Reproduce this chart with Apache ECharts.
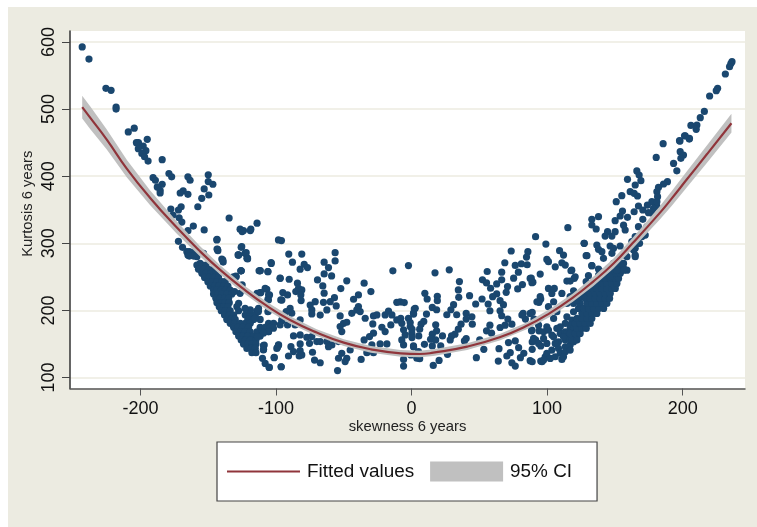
<!DOCTYPE html>
<html><head><meta charset="utf-8">
<style>html,body{margin:0;padding:0;background:#fff}#c{width:757px;height:527px}</style>
<script src="https://cdn.jsdelivr.net/npm/echarts@6/dist/echarts.min.js"></script>
</head><body><div id="c"></div>
<script>
const xTicks=[-200,-100,0,100,200];
const yTicks=[100,200,300,400,500,600];
const fitX=[-243,-237,-225,-210,-193,-173,-156,-141,-124,-107,-90,-70,-50,-30,-8,6,16,41,65,85,102,119,134,149,163,183,192,203,218,236];
const fitY=[503,487,455,411,368,323,288,260,232,207,186,167,152,142,136,135,137,146,160,177,196,219,243,270,300,345,367,395,433,479];
const ciLow=[486,470,440,398,357,314,280.5,253,226,201,180.5,162,147,137,131,130,132,141,155,172,190,213,236,262.5,292,335,356,383,420,465];
const ciHigh=[520,504,470,424,379,332,295.5,267,238,213,191.5,172,157,147,141,140,142,151,165,182,202,225,250,277.5,308,355,378,407,446,493];
const pointsLeftTop=[[-243,592.7],[-238,574.6],[-225.5,531],[-221.7,528],[-218,503],[-218,500],[-209,466],[-204.6,471.6],[-195,455],[-203,450],[-201.5,450],[-198,445],[-201.6,441],[-196,438],[-199,434],[-197,429],[-194.4,422.6],[-184,424.6],[-190.7,397.8],[-189,394],[-179,404],[-177,399],[-184,388],[-187.6,384],[-185.5,379],[-185.5,375],[-165,399],[-163.4,394],[-150,402],[-150,392],[-146.6,388],[-168.5,378],[-170.7,375],[-165,373],[-153,381],[-149.6,372],[-154.8,367],[-157.7,354.5],[-170,354.5],[-172,349.6],[-177.6,351],[-176,342],[-171.5,338],[-169.5,331.6],[-134.6,337.7],[-161,325.7],[-153,320],[-165,318.8],[-126.5,321],[-124,319],[-118.6,321],[-114,330],[-143.5,306],[-143.5,291.5],[-172,303],[-169,294],[-165,282.6],[-125.7,294],[-122.8,285],[-128,282.6],[-121,278],[-140,276.6],[-139,272],[-125.7,259],[-112.5,259],[-129.4,250],[-158.4,280],[-165.8,287.5],[-153.5,285],[-159.7,287.5],[-156,270],[-151,260],[-98.2,305],[-96,304],[-131.4,250],[-125,238],[-126.5,225.4],[-114,225.4]];
const pointsLeftDense=[[-164,287.5],[-164,281],[-160.9,281],[-158.4,267.6],[-154.7,267.6],[-151.7,267.6],[-157.2,261.2],[-153.5,261.2],[-149.8,261.2],[-146.1,261.2],[-154.7,255.2],[-151.7,255.2],[-147.8,255.2],[-144.4,255.2],[-152.7,249.2],[-149.3,249.2],[-145.4,249.2],[-142.4,249.2],[-150.3,242.8],[-147.3,242.8],[-143.6,242.8],[-139.9,242.8],[-137.5,242.8],[-148.5,236.3],[-145.4,236.3],[-142.4,236.3],[-138.7,236.3],[-135.5,236.3],[-146.1,230.4],[-143.6,230.4],[-140.4,230.4],[-137.5,230.4],[-133.8,230.4],[-146.1,224.4],[-142.9,224.4],[-139.9,224.4],[-136.3,224.4],[-132.6,224.4],[-144.4,218],[-141.2,218],[-138,218],[-135,218],[-143.6,211.5],[-140.4,211.5],[-137.5,211.5],[-134.5,211.5],[-141.9,205.5],[-138.7,205.5],[-135.5,205.5],[-128.9,205.5],[-140.4,199.5],[-137.5,199.5],[-133.8,199.5],[-127.6,199.5],[-119,199.5],[-114.1,199.5],[-138,193],[-134.5,193],[-131.3,193],[-122.7,193],[-119,193],[-115.3,193],[-136.3,186.6],[-133,186.6],[-130.1,186.6],[-120.8,186.6],[-116.6,186.6],[-111.7,186.6],[-133.8,180.7],[-130.6,180.7],[-126.4,180.7],[-122.7,180.7],[-119,180.7],[-105.5,180.7],[-101.8,180.7],[-131.3,174.7],[-128.1,174.7],[-124.7,174.7],[-120.3,174.7],[-111.7,174.7],[-108,174.7],[-104.3,174.7],[-129.6,168.2],[-126.4,168.2],[-122.7,168.2],[-119,168.2],[-114.1,168.2],[-110.4,168.2],[-105.5,168.2],[-127.6,161.8],[-124.7,161.8],[-120.8,161.8],[-116.6,161.8],[-111.7,161.8],[-125.7,155.8],[-122.7,155.8],[-119,155.8],[-114.8,155.8],[-124,149.8],[-120.8,149.8],[-117.8,149.8],[-114.8,149.8],[-121.5,143.4],[-118.3,143.4],[-115.3,143.4],[-117.8,137],[-114.8,137],[-139.4,275],[-127.6,282.5],[-121.5,277.6],[-125.7,259],[-129.6,251],[-111.7,259],[-106,257.7],[-103.5,270],[-96.9,247.8],[-108,232.8],[-111.7,226.4],[-105.5,223],[-106,216.4],[-95.7,215.4],[-112.9,203],[-106,198],[-95.7,184.6],[-108.7,148.4],[-109.2,142],[-98.1,148.4],[-99.4,143.4],[-110,128.5],[-108,121],[-101.3,130],[-105,115],[-96.2,116],[-122,286],[-142.9,289],[-127.6,210.5],[-130.6,228]];
const pointsMidLeft=[[-2.3,266.8],[-13.8,259],[-56.4,286],[-56.4,273.8],[-81,284],[-90.6,284],[-87.9,271.8],[-64.5,271.8],[-79.2,268.8],[-76.8,263.8],[-82.2,261.4],[-61.3,263.8],[-64.5,254.4],[-59,251.4],[-69.4,245.4],[-47.8,244],[-65.5,236.5],[-64.5,225.6],[-56.9,219],[-52.2,232.5],[-35,240.5],[-30,228],[-39.2,223],[-42.8,216.6],[-39.2,205.7],[-40.4,200.7],[-44.1,195.7],[-37.9,198.2],[-10.9,212],[-8.4,212.6],[-5.4,211.7],[2.7,203.2],[1.4,195.8],[-65,212],[-60,213],[-55.6,206.7],[-62.5,200.7],[-67.4,193],[-71.1,213],[-74.8,208],[-73.6,200.7],[-73.6,194.8],[-97,248],[-90.3,246.4],[-84.2,240.5],[-83.4,233],[-81,230.5],[-85.4,228],[-81.7,223],[-81.5,214.6],[-95,226.6],[-91.5,223],[-96.5,215.6],[-111.2,226.6],[-106.8,231.5],[-104.8,223],[-105.6,215.6],[-111.7,259.4],[-106,257.9],[-103.6,271.3],[-89.6,203],[-88.4,195.8],[-92.5,198.2],[-95.7,185.8],[-97,178.4],[-91.5,178.4],[-85.9,178.4],[-82.2,185.8],[-105.6,199],[-113,198.2],[-119,200.7],[-122.8,203],[-115.4,188.3],[-101.9,173.4],[-105.6,168.4],[-109.3,166],[-113.7,161],[-87.1,162],[-82.2,163.4],[-77.3,160],[-73.6,161],[-69.9,153.5],[-75.3,151],[-82.2,150],[-89,146],[-98.2,148.5],[-98.9,145],[-109.3,147.5],[-109.3,141],[-87.1,138.6],[-90.8,132],[-82.2,140],[-82.9,132],[-81,133.6],[-73.1,137.6],[-71.6,126],[-67.4,122],[-101.4,129.6],[-96.2,116],[-105,115],[-54.6,110.3],[-53.9,128.7],[-51.5,136],[-47.8,128.7],[-49,123.7],[-37.2,127],[-45.3,141],[-51.5,168.4],[-52.7,176],[-50.2,180.8],[-52.7,191.8],[-47.8,182.3],[-67.4,153.5],[-62.5,153.5],[-58.8,148.5],[-61.3,146],[-53.9,153.5],[-34.2,188.3],[-28.1,191.8],[-25.6,193.3],[-28.6,179.8],[-21.9,174.9],[-19.5,168.4],[-28.1,166],[-31,161],[-35,156],[-29.3,148.5],[-23.2,150],[-18.2,150],[-33,137],[-28.1,137],[-19.5,193.3],[-17,199],[-14.5,193.3],[-15.3,178.4],[-10.9,185.8],[-8,188.3],[-2.3,188.3],[-7.2,180.8],[-1,175.9],[-5.9,171],[0.2,166],[-4.7,163.4],[-7.2,156],[-5.9,148.5],[1.4,147],[-5.9,117],[-5.9,127],[-0.5,133.6],[3.9,128.7],[5.1,138.6],[-143.7,305],[-143.2,291],[-139.3,275],[-125.3,295],[-127.7,282.7],[-122.8,285],[-121,276.6],[-126,259],[-125,317.5],[-119,319]];
const pointsMidRight=[[73.5,288.5],[85.8,287.5],[84.8,279.5],[68.8,271],[55.8,258],[66.5,257],[27.8,260.5],[17.3,256],[35.3,243],[52.3,245.5],[55.3,241],[66.5,245.5],[62.8,239.5],[58.3,233],[70.8,235.5],[69.8,227],[75.3,248],[78.8,257],[76.5,267],[81,269.5],[85.3,268],[88.3,248],[89.5,242],[81.8,238.5],[78.3,232],[34.5,230.5],[34.8,219.5],[9.8,225.5],[11.5,217],[19,221],[19,214.5],[42.8,222],[47.3,209.5],[52,217],[56.5,209.5],[62.8,224.5],[59.8,220.5],[65.3,214.5],[67.8,208.5],[57.8,199.5],[65.3,199.5],[66.5,192],[15.3,204.5],[18.5,201],[2,202],[1.5,194.5],[11,194.5],[31,208.5],[29,201],[26,193.5],[33.3,193.5],[40.3,195.5],[44.5,190.5],[40.3,187],[44.8,179.5],[36.5,179.5],[34.5,172],[32,164.5],[29.5,162],[17.8,178.5],[18.5,169.5],[9,183.5],[7,179.5],[6,172],[5.3,162],[-1,182],[0.3,172],[0.3,159.5],[15.3,164.5],[14,157],[22.8,162],[17.8,156],[28.5,156],[40.3,158],[39,154.5],[50.3,156],[57.8,178],[55.3,169.5],[59,166],[65.3,174.5],[71,187],[69,178],[74,179.5],[82.3,195.5],[89,197],[84,187],[90.3,187],[95.3,217],[94,212],[88.5,169.5],[94,169.5],[91.5,156],[89,153],[71.5,152],[76.5,154.5],[79,144.5],[64.5,143],[53.3,142],[47.8,129.5],[72.8,137],[70.3,132],[82.8,136],[80.3,129.5],[89,142],[95.3,147],[64,124.5],[74,122],[76.5,117],[89,123.5],[20.3,125.5],[16,118],[6,128],[1.5,145.5],[9.5,149.5],[15.3,147],[21.5,147],[26.5,134.5],[95.3,124.5]];
const pointsRightLow=[[115.3,323.3],[91.5,309.8],[99.1,298.9],[109.2,289],[112.1,282.5],[127.4,299.9],[129.4,281.5],[133,266.6],[117.6,259.1],[106,265],[110.9,271],[113.4,267.6],[99.8,276],[101,272.6],[94.9,254.2],[87.5,247.7],[88.8,241.2],[120,247.7],[114.6,243.7],[117,243.7],[101,232.8],[105.3,232.8],[103.5,225.3],[110.9,225.3],[94.9,220.4],[92.5,212.9],[104.8,212.9],[101,205.5],[119.5,229.3],[117,220.4],[114.6,210.4],[119.5,210.4],[104.8,188],[107.2,198],[87.5,195.5],[81.4,193],[99.8,175.6],[97.4,168.2],[88.8,170.7],[93.7,178],[90,158.2],[93.7,150.8],[99.8,150.8],[104.8,160.7],[109.7,165.7],[113.4,168.2],[117,173.2],[119.5,165.7],[108.4,153.3],[113.4,155.8],[103.5,140.9],[108.4,143.3],[113.4,145.8],[117,148.3],[122,160.7],[106,130.9],[110.9,127],[98.6,130.9],[96.2,123.5],[87.5,125],[109.7,136],[123.2,203],[119.5,198],[124.4,210.4],[122,215.4],[125.7,220.4],[128.1,225.3],[129.4,232.8],[131.8,237.8],[134.3,242.7],[138,252.7],[141.7,257.6],[114.6,190.5],[118.3,185.6],[117,178.1],[113.4,180.6],[109.7,175.6],[107.2,173.2],[114.6,165.7],[115.8,158.2],[112.1,160.7],[119.5,153.3],[115.8,145.8],[113.4,138.4],[117,140.9],[103.5,163.2],[101,170.7],[97.4,158.2],[106,150.8],[99.8,136],[102.3,128.4],[97.4,126],[112.1,130.9],[119.5,173.2]];
const pointsRightDense=[[118.3,155.8],[122,155.8],[117,165.7],[120.8,165.7],[124.4,165.7],[122,173.2],[125.7,173.2],[128.9,173.2],[120.8,180.6],[124.4,180.6],[128.1,180.6],[131.8,180.6],[122,188],[125.7,188],[129.4,188],[133,188],[125.7,195.5],[129.4,195.5],[133,195.5],[136.7,195.5],[126.9,203],[130.6,203],[134.3,203],[138,203],[141.7,203],[129.4,210.4],[133,210.4],[136.7,210.4],[140.4,210.4],[144.1,210.4],[128.1,217.9],[131.8,217.9],[135.5,217.9],[139.2,217.9],[142.9,217.9],[146.1,217.9],[131.8,225.3],[135.5,225.3],[139.2,225.3],[142.9,225.3],[146.6,225.3],[133,232.8],[136.7,232.8],[140.4,232.8],[144.1,232.8],[147.8,232.8],[150.3,232.8],[136.7,240.2],[140.4,240.2],[144.1,240.2],[147.8,240.2],[151.5,240.2],[139.2,247.7],[142.9,247.7],[146.6,247.7],[150.3,247.7],[152.7,247.7],[144.1,255.2],[147.1,255.2],[150.3,255.2],[154,255.2],[145.4,262.6],[149,262.6],[152.7,262.6],[156.4,262.6],[149,270],[152.7,270],[156.4,270],[151.5,260],[155.2,270],[158.9,280],[163.8,290],[166.3,300],[170,310],[173.6,325],[177.3,345],[181,355],[165,282.5],[158.9,260]];
const pointsRightTop=[[185.6,448.5],[180.5,428],[201.9,460],[205,456.5],[197.7,453],[198.2,436.6],[200.6,431.6],[198.7,426.7],[193.3,419],[195.7,408],[166.2,407.8],[167.9,401.8],[169.2,393.4],[159.3,395.3],[165,386.9],[188.8,391.9],[185.9,388.4],[182.2,383.4],[181,377],[181.5,369.5],[161.3,377],[164.2,374.5],[166.7,370.5],[155.1,371],[151,362],[177.3,362],[174,357],[181,362],[167.4,355.6],[170.6,349.6],[174.8,345.6],[178.5,352],[155.6,348],[164.2,347],[153.9,340.7],[159.3,338.7],[170.6,335.7],[150.2,333.7],[156.4,327],[137.9,339.7],[133,335.7],[133,327.3],[136.2,321.3],[167.4,324.8],[157.6,319.8],[150.2,317.3],[144.6,317.3],[142.8,310.8],[147.8,310.8],[165,309.9],[172.4,312.3],[168.2,299.9],[162.5,302.4],[165,292.5],[165,280],[127.3,300],[136.7,297.4],[137.9,291],[140.4,287.5],[146.5,296],[153.9,296],[149,292.5],[128.8,281.5],[141.6,277.6],[147.8,285],[133,266.6],[118.2,260],[120.7,250],[137.9,261.6],[130.5,251.7],[128.8,242.8],[156.4,260],[151.4,270],[157.6,282.5],[146.5,250],[151.4,260],[236.4,570.7],[235.6,568],[234.6,563.2],[231.5,552.3],[225.8,530.9],[224.8,527.4],[219.9,519.5],[216,496.6],[213,487.2],[206.1,475.7],[210.5,476.2],[210,469.8],[201.4,460.3],[204.9,455.4],[198,452.4]];
const points=[...pointsLeftTop,...pointsLeftDense,...pointsMidLeft,...pointsMidRight,...pointsRightLow,...pointsRightDense,...pointsRightTop];
const ciRows=fitX.map((x,i)=>[x,ciLow[i],ciHigh[i]]);
const fitRows=fitX.map((x,i)=>[x,fitY[i]]);
const font='"Liberation Sans", Arial, sans-serif';
const chart=echarts.init(document.getElementById('c'),null,{renderer:'canvas'});
chart.setOption({
  animation:false,
  backgroundColor:'#ffffff',
  graphic:[{type:'rect',z:-10,silent:true,shape:{x:8,y:7,width:749,height:520},style:{fill:'#ecebe1'}}],
  grid:{left:70,top:31,right:12,bottom:138.5,show:true,backgroundColor:'#ffffff',borderWidth:0},
  xAxis:{type:'value',min:-252,max:246,name:'skewness 6 years',nameLocation:'middle',nameGap:31,nameMoveOverlap:false,
    nameTextStyle:{fontFamily:font,fontSize:14.8,color:'#222'},
    axisLine:{show:true,onZero:false,lineStyle:{color:'#555',width:1.5}},
    axisTick:{show:true,length:7,customValues:xTicks,lineStyle:{color:'#555',width:1}},
    axisLabel:{customValues:xTicks,fontFamily:font,fontSize:18,color:'#111',margin:12,formatter:v=>String(v)},
    splitLine:{show:false}},
  yAxis:{type:'value',min:83.6,max:616.4,name:'Kurtosis 6 years',nameLocation:'middle',nameGap:35,nameRotate:90,nameMoveOverlap:false,
    nameTextStyle:{fontFamily:font,fontSize:14.8,color:'#222',padding:[0,0,0,12]},
    axisLine:{show:true,onZero:false,lineStyle:{color:'#333',width:1.5}},
    axisTick:{show:true,length:8,customValues:yTicks,lineStyle:{color:'#444',width:1}},
    axisLabel:{customValues:yTicks,rotate:90,fontFamily:font,fontSize:18,color:'#111',margin:12,formatter:v=>String(v)},
    splitLine:{show:true,lineStyle:{color:'#ecebe1',width:1.6}}},
  legend:{left:217,top:442,orient:'horizontal',padding:[19.5,25,19.5,10],itemWidth:73,itemHeight:20,itemGap:16,
    backgroundColor:'#ffffff',borderColor:'#444',borderWidth:1.2,selectedMode:false,
    textStyle:{fontFamily:font,fontSize:18.9,color:'#111',padding:[0,0,0,2]},
    data:[{name:'Fitted values',icon:'path://M0,0H73V0.01H0Z M0,9H73V11H0Z M0,19.99H73V20H0Z'},{name:'95% CI',icon:'rect'}]},
  series:[
    {type:'scatter',name:'points',data:points,symbol:'circle',symbolSize:7.2,z:2,silent:true,
      itemStyle:{color:'#1a476f',opacity:1}},
    {type:'custom',name:'95% CI',data:ciRows,z:3,silent:true,
      encode:{x:0,y:[1,2]},itemStyle:{color:'#c0c0c0'},
      renderItem:(params,api)=>{
        if(params.dataIndex!==0) return null;
        const low=ciRows.map(r=>api.coord([r[0],r[1]]));
        const high=ciRows.map(r=>api.coord([r[0],r[2]])).reverse();
        return {type:'polygon',shape:{points:low.concat(high)},style:{fill:'#c0c0c0'}};
      }},
    {type:'line',name:'Fitted values',data:fitRows,smooth:true,symbol:'none',z:4,silent:true,
      lineStyle:{color:'#90353b',width:2.2},itemStyle:{color:'#90353b'}}
  ]
});
</script></body></html>
